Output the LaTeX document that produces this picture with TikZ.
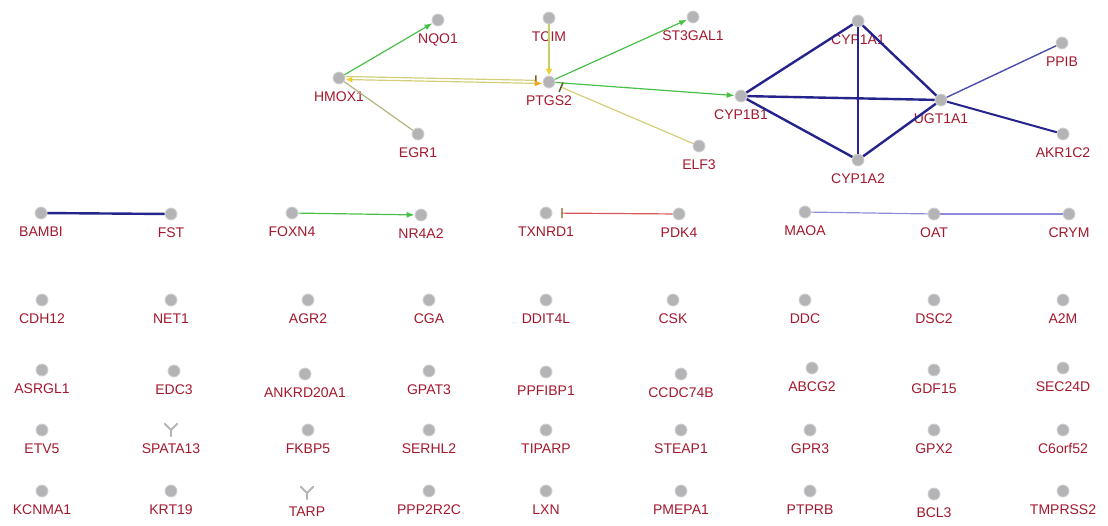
\documentclass[tikz,border=0pt]{standalone}
\usepackage{fontspec}
\setmainfont{Liberation Sans}
\usetikzlibrary{arrows.meta}

\definecolor{genered}{HTML}{A3182E}
\definecolor{nodegray}{HTML}{B4B4B6}
\definecolor{nodeedge}{HTML}{D2D2D4}
\definecolor{actgreen}{HTML}{48C048}
\definecolor{bindblue}{HTML}{24248C}
\definecolor{softblue}{HTML}{4C4CAE}
\definecolor{paleblue}{HTML}{8C8CD8}
\definecolor{khaki}{HTML}{D4CE7A}
\definecolor{olivekhaki}{HTML}{B6B47A}
\definecolor{limeyellow}{HTML}{C6D064}
\definecolor{exprorange}{HTML}{F0A820}
\definecolor{expryellow}{HTML}{F2CC28}
\definecolor{teebrown}{HTML}{8A5A20}
\definecolor{teeolive}{HTML}{5A5A20}
\definecolor{inhibred}{HTML}{D85858}

\begin{document}
\begin{tikzpicture}[
            x=1pt, y=-1pt,
            gene/.style={
                circle,
                fill=nodegray,
                draw=nodeedge,
                line width=0.8pt,
                minimum size=12pt,
                inner sep=0pt,
                label={[genelabel]below:#1}
            },
            vgene/.style={
                minimum size=12pt,
                inner sep=0pt,
                label={[genelabel]below:#1}
            },
            genelabel/.style={
                text=genered,
                inner sep=0pt,
                yshift=-7pt,
                font=\fontsize{14}{16}\selectfont
            },
            vmark/.style={draw=nodegray, line width=2pt, line cap=round},
            act/.style={draw=actgreen, line width=1.2pt, -{Latex[length=8pt,width=6pt]}},
            bind/.style={draw=bindblue, line width=2.4pt},
            weakbind/.style={draw=softblue, line width=1.4pt},
            palebind/.style={draw=paleblue, line width=1.2pt},
            expr/.style={line width=1.2pt},
            inhib/.style={draw=inhibred, line width=1.2pt}
        ]
        \useasboundingbox (0,0) rectangle (1108,525);

        % Connected genes
        \node[gene=NQO1] (nqo1) at (438,20) {};
        \node[gene=TCIM] (tcim) at (549,18) {};
        \node[gene=ST3GAL1] (st3gal1) at (693,17) {};
        \node[gene=CYP1A1] (cyp1a1) at (858,21) {};
        \node[gene=HMOX1] (hmox1) at (339,78) {};
        \node[gene=PTGS2] (ptgs2) at (549,82) {};
        \node[gene=PPIB] (ppib) at (1062,43) {};
        \node[gene=CYP1B1] (cyp1b1) at (741,96) {};
        \node[gene=UGT1A1] (ugt1a1) at (941,100) {};
        \node[gene=EGR1] (egr1) at (418,134) {};
        \node[gene=ELF3] (elf3) at (699,146) {};
        \node[gene=AKR1C2] (akr1c2) at (1063,134) {};
        \node[gene=CYP1A2] (cyp1a2) at (858,160) {};

        % Pairs and chain
        \node[gene=BAMBI] (bambi) at (41,213) {};
        \node[gene=FST] (fst) at (171,214) {};
        \node[gene=FOXN4] (foxn4) at (292,213) {};
        \node[gene=NR4A2] (nr4a2) at (421,215) {};
        \node[gene=TXNRD1] (txnrd1) at (546,213) {};
        \node[gene=PDK4] (pdk4) at (679,214) {};
        \node[gene=MAOA] (maoa) at (805,212) {};
        \node[gene=OAT] (oat) at (934,214) {};
        \node[gene=CRYM] (crym) at (1069,214) {};

        % Single genes, row 1
        \node[gene=CDH12] (cdh12) at (42,300) {};
        \node[gene=NET1] (net1) at (171,300) {};
        \node[gene=AGR2] (agr2) at (308,300) {};
        \node[gene=CGA] (cga) at (429,300) {};
        \node[gene=DDIT4L] (ddit4l) at (546,300) {};
        \node[gene=CSK] (csk) at (673,300) {};
        \node[gene=DDC] (ddc) at (805,300) {};
        \node[gene=DSC2] (dsc2) at (934,300) {};
        \node[gene=A2M] (a2m) at (1063,300) {};

        % Single genes, row 2
        \node[gene=ASRGL1] (asrgl1) at (42,370) {};
        \node[gene=EDC3] (edc3) at (174,371) {};
        \node[gene=ANKRD20A1] (ankrd20a1) at (305,374) {};
        \node[gene=GPAT3] (gpat3) at (429,371) {};
        \node[gene=PPFIBP1] (ppfibp1) at (546,372) {};
        \node[gene=CCDC74B] (ccdc74b) at (681,374) {};
        \node[gene=ABCG2] (abcg2) at (812,368) {};
        \node[gene=GDF15] (gdf15) at (934,370) {};
        \node[gene=SEC24D] (sec24d) at (1063,368) {};

        % Single genes, row 3
        \node[gene=ETV5] (etv5) at (42,430) {};
        \node[vgene=SPATA13] (spata13) at (171,430) {};
        \node[gene=FKBP5] (fkbp5) at (308,430) {};
        \node[gene=SERHL2] (serhl2) at (429,430) {};
        \node[gene=TIPARP] (tiparp) at (546,430) {};
        \node[gene=STEAP1] (steap1) at (681,430) {};
        \node[gene=GPR3] (gpr3) at (810,430) {};
        \node[gene=GPX2] (gpx2) at (934,430) {};
        \node[gene=C6orf52] (c6orf52) at (1063,430) {};

        % Single genes, row 4
        \node[gene=KCNMA1] (kcnma1) at (42,491) {};
        \node[gene=KRT19] (krt19) at (171,491) {};
        \node[vgene=TARP] (tarp) at (307,493) {};
        \node[gene=PPP2R2C] (ppp2r2c) at (429,491) {};
        \node[gene=LXN] (lxn) at (546,491) {};
        \node[gene=PMEPA1] (pmepa1) at (681,491) {};
        \node[gene=PTPRB] (ptprb) at (810,491) {};
        \node[gene=BCL3] (bcl3) at (934,494) {};
        \node[gene=TMPRSS2] (tmprss2) at (1063,491) {};

        % V marks
        \draw[vmark] (spata13.north west) -- (spata13.center) -- (spata13.north east);
        \draw[vmark] (spata13.center) -- (spata13.south);
        \draw[vmark] (tarp.north west) -- (tarp.center) -- (tarp.north east);
        \draw[vmark] (tarp.center) -- (tarp.south);

        % Edges around PTGS2
        \draw[act] (hmox1) -- (nqo1);
        \draw[expr, draw=khaki, -{Bar[width=10pt,line width=1.5pt,color=teebrown]}, shorten >=6pt]
            ([yshift=1.5pt]hmox1.east) -- ([yshift=1.5pt]ptgs2.west);
        \draw[expr, draw=khaki, {Latex[length=7pt,width=6pt,color=expryellow]}-{Latex[length=8pt,width=6pt,color=exprorange]}]
            ([yshift=-1.5pt]hmox1.east) -- ([yshift=-1.5pt]ptgs2.west);
        \draw[expr, draw=olivekhaki] (hmox1) -- (egr1);
        \draw[expr, draw=limeyellow, -{Latex[length=7pt,width=7pt,color=expryellow]}] (tcim) -- (ptgs2);
        \draw[act] (ptgs2) -- (st3gal1);
        \draw[act] (ptgs2) -- (cyp1b1);
        \draw[expr, draw=khaki, {Bar[width=10pt,line width=1.5pt,color=teeolive]}-, shorten <=6pt] (ptgs2) -- (elf3);

        % Edges of the CYP group
        \draw[bind] (cyp1b1) -- (cyp1a1);
        \draw[bind] (cyp1b1) -- (cyp1a2);
        \draw[bind] (cyp1b1) -- (ugt1a1);
        \draw[bind] (cyp1a1) -- (cyp1a2);
        \draw[bind] (cyp1a1) -- (ugt1a1);
        \draw[bind] (cyp1a2) -- (ugt1a1);
        \draw[weakbind] (ugt1a1) -- (ppib);
        \draw[bind, line width=2pt] (ugt1a1) -- (akr1c2);

        % Pair edges
        \draw[bind] (bambi) -- (fst);
        \draw[act] (foxn4) -- (nr4a2);
        \draw[inhib, -{Bar[width=10pt,line width=1.2pt,color=teebrown]}, shorten >=9pt] (pdk4) -- (txnrd1);
        \draw[palebind] (maoa) -- (oat);
        \draw[palebind] (oat) -- (crym);

        \end{tikzpicture}
\end{document}
